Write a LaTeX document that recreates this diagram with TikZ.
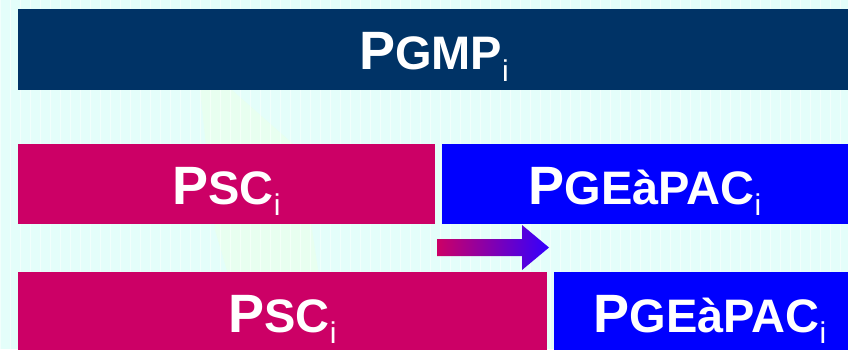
\documentclass[tikz,border=0pt]{standalone}
\usepackage{fontspec}
\setmainfont{Liberation Sans}
\definecolor{bgc}{RGB}{228,254,250}
\definecolor{navy}{RGB}{0,51,102}
\definecolor{mag}{RGB}{204,0,102}
\definecolor{blu}{RGB}{0,0,255}
\definecolor{arrowblue}{RGB}{51,0,255}
\definecolor{wm}{RGB}{232,255,240}
\newcommand{\lbltext}[2]{{\fontsize{54}{54}\selectfont #1}{\fontsize{47}{47}\selectfont #2}\raisebox{-11.5pt}{\fontsize{30}{30}\selectfont\mdseries i}}
\tikzset{
  boxbase/.style={inner sep=0pt, text=white, font=\bfseries, text height=40pt, text depth=0pt, align=center},
  barbox/.style={boxbase, fill=navy},
  pinkbox/.style={boxbase, fill=mag},
  bluebox/.style={boxbase, fill=blu},
}
\begin{document}
\begin{tikzpicture}[x=1pt,y=-1pt]
\useasboundingbox (0,0) rectangle (848,349);
\clip (0,0) rectangle (848,349);
% background
\fill[bgc] (0,0) rectangle (848,349);
\fill[wm] (200,90) -- (232,90) -- (300,150) -- (330,349) -- (250,349) -- (215,230) -- cycle;
\draw[white, line width=0.6pt, opacity=0.55, step=10] (0,0) grid (848,349);
% boxes
\node[barbox, minimum width=832pt, minimum height=81pt] (pgmp) at (434,49.5) {\lbltext{P}{GMP}};
\node[pinkbox, minimum width=417pt, minimum height=80pt] (psca) at (226.5,184) {\lbltext{P}{SC}};
\node[bluebox, minimum width=406pt, minimum height=80pt] (pgea) at (645,184) {\lbltext{P}{GEàPAC}};
\node[pinkbox, minimum width=529pt, minimum height=80pt] (pscb) at (282.5,312) {\lbltext{P}{SC}};
\node[bluebox, minimum width=312pt, minimum height=80pt] (pgeb) at (710,312) {\lbltext{P}{GEàPAC}};
% shift arrow
\shade[left color=mag, right color=arrowblue]
  (437,239) -- (522,239) -- (522,225) -- (549,247.5) -- (522,270) -- (522,256) -- (437,256) -- cycle;
\end{tikzpicture}
\end{document}
